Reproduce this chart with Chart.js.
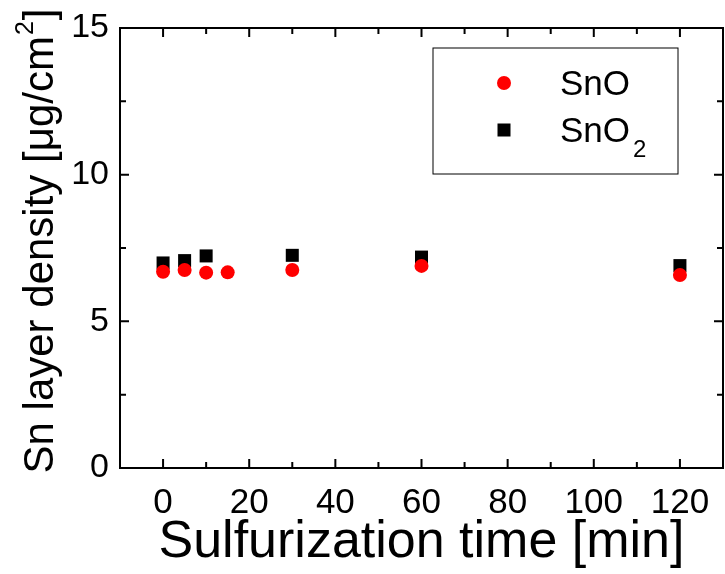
<!DOCTYPE html>
<html>
<head>
<meta charset="utf-8">
<script src="https://cdn.jsdelivr.net/npm/chart.js@4"></script>
<style>
html,body{margin:0;padding:0;background:#fff;}
#wrap{width:725px;height:574px;}
</style>
</head>
<body>
<div id="wrap"><canvas id="grafico"></canvas></div>
<script>
const temposSnO = [0, 5, 10, 15, 30, 60, 120];
const valoresSnO = [6.69, 6.75, 6.66, 6.67, 6.75, 6.89, 6.58];
const temposSnO2 = [0, 5, 10, 30, 60, 120];
const valoresSnO2 = [6.99, 7.07, 7.23, 7.25, 7.19, 6.90];

const xTicks = [0, 20, 40, 60, 80, 100, 120];
const xMinor = [10, 30, 50, 70, 90, 110];
const yTicks = [0, 5, 10, 15];
const yMinor = [2.5, 7.5, 12.5];

// título do eixo y em partes: texto, sobrescrito, fim
const tituloY = ['Sn layer density [μg/cm', '2', ']'];

const fonte = '"Liberation Sans", Arial, sans-serif';

function pontos(xs, ys){
return xs.map((x, i) => ({x: x, y: ys[i]}));
}

// moldura com ticks para dentro nos quatro lados
const moldura = {
id: 'moldura',
afterDraw(chart){
const {ctx, chartArea: a, scales} = chart;
const x = scales.x, y = scales.y;
ctx.save();
ctx.strokeStyle = '#000';
ctx.lineWidth = 2;
ctx.strokeRect(a.left, a.top, a.right - a.left, a.bottom - a.top);
ctx.beginPath();
function tx(v, len){
const p = x.getPixelForValue(v);
ctx.moveTo(p, a.bottom); ctx.lineTo(p, a.bottom - len);
ctx.moveTo(p, a.top); ctx.lineTo(p, a.top + len);
}
function ty(v, len){
const p = y.getPixelForValue(v);
ctx.moveTo(a.left, p); ctx.lineTo(a.left + len, p);
ctx.moveTo(a.right, p); ctx.lineTo(a.right - len, p);
}
xTicks.forEach(v => tx(v, 9));
xMinor.forEach(v => tx(v, 6));
yTicks.forEach(v => ty(v, 9));
yMinor.forEach(v => ty(v, 6));
ctx.stroke();
ctx.restore();
}
};

// título vertical com sobrescrito
const tituloVertical = {
id: 'tituloVertical',
afterDraw(chart, args, opts){
const ctx = chart.ctx;
ctx.save();
ctx.fillStyle = '#000';
ctx.textBaseline = 'alphabetic';
ctx.textAlign = 'left';
ctx.font = opts.size + 'px ' + fonte;
const w0 = ctx.measureText(tituloY[0]).width;
const w2 = ctx.measureText(tituloY[2]).width;
ctx.font = opts.supSize + 'px ' + fonte;
const w1 = ctx.measureText(tituloY[1]).width;
const total = w0 + w1 + w2 + 2;
ctx.translate(opts.baseX, opts.centerY);
ctx.rotate(-Math.PI / 2);
let px = -total / 2;
ctx.font = opts.size + 'px ' + fonte;
ctx.fillText(tituloY[0], px, 0);
px += w0 + 1;
ctx.font = opts.supSize + 'px ' + fonte;
ctx.fillText(tituloY[1], px, -opts.supRise);
px += w1 + 1;
ctx.font = opts.size + 'px ' + fonte;
ctx.fillText(tituloY[2], px, 0);
ctx.restore();
}
};

// legenda dentro do gráfico, com subscrito
const legenda = {
id: 'legenda',
afterDraw(chart, args, opts){
const ctx = chart.ctx;
ctx.save();
ctx.strokeStyle = '#000';
ctx.lineWidth = 1;
ctx.strokeRect(opts.left, opts.top, opts.width, opts.height);
chart.data.datasets.forEach((ds, i) => {
const cy = opts.top + opts.firstY + i * opts.gap;
const cx = opts.left + opts.markerX;
ctx.fillStyle = ds.backgroundColor;
if(ds.pointStyle === 'rect'){
ctx.fillRect(cx - 6.5, cy - 6.5, 13, 13);
}else{
ctx.beginPath();
ctx.arc(cx, cy, 7, 0, Math.PI * 2);
ctx.fill();
}
const partes = ds.label.split('_');
ctx.fillStyle = '#000';
ctx.textBaseline = 'alphabetic';
ctx.font = '35px ' + fonte;
const tx = opts.left + opts.textX;
const base = cy + 12;
ctx.fillText(partes[0], tx, base);
if(partes[1]){
const w = ctx.measureText(partes[0]).width;
ctx.font = '24px ' + fonte;
ctx.fillText(partes[1], tx + w + 3, base + 15);
}
});
ctx.restore();
}
};

new Chart(document.getElementById('grafico'), {
type: 'scatter',
data: {
datasets: [
{
label: 'SnO',
data: pontos(temposSnO, valoresSnO),
pointStyle: 'circle',
pointRadius: 7,
pointHoverRadius: 7,
backgroundColor: '#ff0000',
borderColor: '#ff0000',
borderWidth: 0
},
{
label: 'SnO_2',
data: pontos(temposSnO2, valoresSnO2),
pointStyle: 'rect',
pointRadius: 9.2,
pointHoverRadius: 9.2,
backgroundColor: '#000000',
borderColor: '#000000',
borderWidth: 0
}
]
},
options: {
responsive: true,
maintainAspectRatio: false,
animation: false,
layout: {autoPadding: false, padding: {top: 28, right: 2, left: 0, bottom: 0}},
plugins: {
legend: {display: false},
tooltip: {enabled: false},
legenda: {left: 433, top: 48, width: 245, height: 126, markerX: 71, textX: 127, firstY: 35, gap: 47},
tituloVertical: {baseX: 53, centerY: 241, size: 42, supSize: 25, supRise: 20}
},
scales: {
x: {
type: 'linear',
min: -10,
max: 130,
afterBuildTicks: s => { s.ticks = xTicks.map(v => ({value: v})); },
afterFit: s => { s.height = 106; s.paddingLeft = 0; s.paddingRight = 0; },
grid: {display: false, drawTicks: false},
border: {display: false},
ticks: {color: '#000', padding: 14, font: {family: fonte, size: 35}},
title: {display: true, text: 'Sulfurization time [min]', color: '#000', padding: {top: 0, bottom: 0}, font: {family: fonte, size: 52}}
},
y: {
type: 'linear',
min: 0,
max: 15,
afterBuildTicks: s => { s.ticks = yTicks.map(v => ({value: v})); },
afterFit: s => { s.width = 120; s.paddingTop = 0; s.paddingBottom = 0; },
grid: {display: false, drawTicks: false},
border: {display: false},
ticks: {color: '#000', padding: 11, font: {family: fonte, size: 34}},
title: {display: false}
}
}
},
plugins: [moldura, tituloVertical, legenda]
});
</script>
</body>
</html>
